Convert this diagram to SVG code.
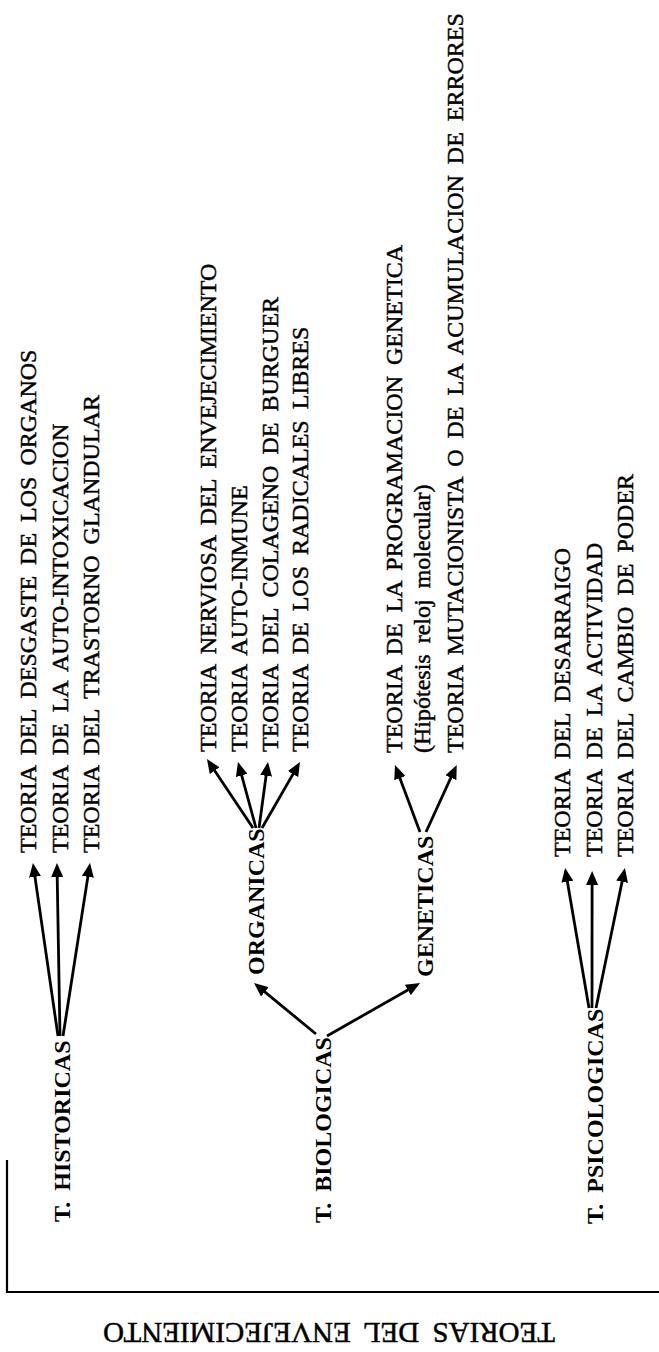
<svg xmlns="http://www.w3.org/2000/svg" width="659" height="1352" viewBox="0 0 659 1352">
<defs>
<style>
.t{font-family:"Liberation Serif","Times New Roman",serif;font-size:24px;fill:#000;stroke:#000;stroke-width:0.45px;word-spacing:5px}
.b{font-family:"Liberation Serif","Times New Roman",serif;font-size:24px;font-weight:bold;fill:#000;word-spacing:5px}
.ttl{font-family:"Liberation Serif","Times New Roman",serif;font-size:29px;fill:#000;stroke:#000;stroke-width:0.45px;word-spacing:6px}
.c line{stroke:#000;stroke-width:2.8;marker-end:url(#ah)}
.f{stroke:#000;stroke-width:2.2;fill:none}
</style>
<marker id="ah" viewBox="0 0 14 12" refX="6" refY="6" markerWidth="14" markerHeight="12" markerUnits="userSpaceOnUse" orient="auto">
<path d="M0,0 L14,6 L0,12 z" fill="#000"/>
</marker>
</defs>
<rect width="659" height="1352" fill="#fff"/>

<g id="frame">
<polyline class="f" points="7,1160 7,1292 659,1292"/>
</g>
<g id="title">
<text class="ttl" transform="translate(329,1323) rotate(180)" text-anchor="middle">TEORIAS DEL ENVEJECIMIENTO</text>
</g>

<g id="historicas">
<text class="b" transform="translate(70,1222) rotate(-90)">T. HISTORICAS</text>
</g>
<g id="h-desgaste"><text class="t" transform="translate(36,853) rotate(-90)">TEORIA DEL DESGASTE DE LOS ORGANOS</text></g>
<g id="h-autointox"><text class="t" transform="translate(68,853) rotate(-90)">TEORIA DE LA AUTO-INTOXICACION</text></g>
<g id="h-glandular"><text class="t" transform="translate(99,853) rotate(-90)">TEORIA DEL TRASTORNO GLANDULAR</text></g>

<g id="biologicas">
<text class="b" transform="translate(331,1223) rotate(-90)">T. BIOLOGICAS</text>
</g>
<g id="organicas">
<text class="b" transform="translate(264,975) rotate(-90)" font-size="23">ORGANICAS</text>
</g>
<g id="o-nerviosa"><text class="t" transform="translate(216,752) rotate(-90)">TEORIA NERVIOSA DEL ENVEJECIMIENTO</text></g>
<g id="o-autoinmune"><text class="t" transform="translate(247,752) rotate(-90)">TEORIA AUTO-INMUNE</text></g>
<g id="o-colageno"><text class="t" transform="translate(278,752) rotate(-90)">TEORIA DEL COLAGENO DE BURGUER</text></g>
<g id="o-radicales"><text class="t" transform="translate(308,752) rotate(-90)">TEORIA DE LOS RADICALES LIBRES</text></g>

<g id="geneticas">
<text class="b" transform="translate(433,977) rotate(-90)">GENETICAS</text>
</g>
<g id="g-programacion"><text class="t" transform="translate(402,753) rotate(-90)">TEORIA DE LA PROGRAMACION GENETICA</text>
<text class="t" transform="translate(430,753) rotate(-90)">(Hipótesis reloj molecular)</text></g>
<g id="g-mutacionista"><text class="t" transform="translate(463,753) rotate(-90)">TEORIA MUTACIONISTA O DE LA ACUMULACION DE ERRORES</text></g>

<g id="psicologicas">
<text class="b" transform="translate(603,1224) rotate(-90)">T. PSICOLOGICAS</text>
</g>
<g id="p-desarraigo"><text class="t" transform="translate(570,857) rotate(-90)">TEORIA DEL DESARRAIGO</text></g>
<g id="p-actividad"><text class="t" transform="translate(602,857) rotate(-90)">TEORIA DE LA ACTIVIDAD</text></g>
<g id="p-poder"><text class="t" transform="translate(633,857) rotate(-90)">TEORIA DEL CAMBIO DE PODER</text></g>

<g id="connectors" class="c">
<line x1="58" y1="1036" x2="34.1" y2="870.9"/>
<line x1="60" y1="1036" x2="57.1" y2="871"/>
<line x1="63" y1="1036" x2="88.8" y2="870.9"/>
<line x1="253" y1="828" x2="211.4" y2="765.7"/>
<line x1="256" y1="828" x2="240.1" y2="769.7"/>
<line x1="259" y1="828" x2="266.9" y2="769.9"/>
<line x1="262" y1="828" x2="296" y2="768.9"/>
<line x1="316" y1="1034" x2="260.2" y2="988.1"/>
<line x1="327" y1="1036" x2="413.1" y2="987"/>
<line x1="420" y1="832" x2="397.8" y2="772.5"/>
<line x1="426" y1="832" x2="453.4" y2="772.2"/>
<line x1="589" y1="1008" x2="566.4" y2="875.9"/>
<line x1="592" y1="1008" x2="592.1" y2="879"/>
<line x1="596" y1="1008" x2="623.3" y2="875.8"/>
</g>
</svg>
